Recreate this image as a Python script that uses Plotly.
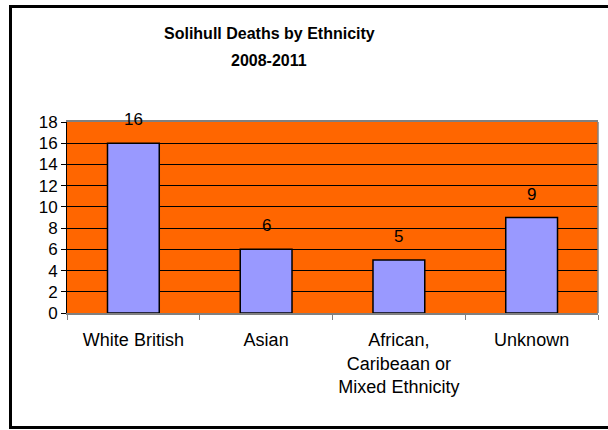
import plotly.graph_objects as go

# Chart data
categories = ["White British", "Asian", "African,<br>Caribeaan or<br>Mixed Ethnicity", "Unknown"]
deaths = [16, 6, 5, 9]
title_lines = ["Solihull Deaths by Ethnicity", "2008-2011"]

FONT = "Liberation Sans, Arial, sans-serif"
W, H = 608, 430
M_L, M_R, M_T, M_B = 67, 10, 122, 117
PW = W - M_L - M_R
PH = H - M_T - M_B


def px_x(x):
    return (x - M_L) / PW


def px_y(y):
    return (H - M_B - y) / PH


fig = go.Figure()
fig.add_trace(go.Bar(
    x=categories,
    y=deaths,
    marker=dict(color="#9999FF", line=dict(color="black", width=1.5)),
    hoverinfo="x+y",
))

# Value labels above each bar
for c, v in zip(categories, deaths):
    fig.add_annotation(
        x=c, y=v, xref="x", yref="y", text=str(v), showarrow=False,
        yanchor="bottom", yshift=12, font=dict(family=FONT, size=17, color="black"),
    )

# Two-line bold title
fig.add_annotation(x=px_x(269), y=px_y(34), xref="paper", yref="paper",
                   text="<b>%s</b>" % title_lines[0], showarrow=False,
                   xanchor="center", yanchor="middle",
                   font=dict(family=FONT, size=16, color="black"))
fig.add_annotation(x=px_x(269), y=px_y(61), xref="paper", yref="paper",
                   text="<b>%s</b>" % title_lines[1], showarrow=False,
                   xanchor="center", yanchor="middle",
                   font=dict(family=FONT, size=16, color="black"))

shapes = [
    # right edge of the plot area
    dict(type="line", xref="paper", yref="paper", x0=1, x1=1, y0=0, y1=1,
         line=dict(color="#808080", width=1.5)),
    # outer chart frame
    dict(type="rect", xref="paper", yref="paper",
         x0=px_x(10.5), x1=px_x(614), y0=px_y(427.5), y1=px_y(6.5),
         line=dict(color="black", width=3), fillcolor="rgba(0,0,0,0)"),
]

fig.update_layout(
    width=W, height=H,
    margin=dict(l=M_L, r=M_R, t=M_T, b=M_B, pad=0),
    paper_bgcolor="white",
    plot_bgcolor="#FF6600",
    bargap=0.61,
    showlegend=False,
    font=dict(family=FONT, size=17, color="black"),
    shapes=shapes,
    xaxis=dict(
        showgrid=False, showline=True, linecolor="#808080", linewidth=1.5, mirror=True,
        ticks="outside", tickson="boundaries", ticklen=5, tickcolor="#808080",
        ticklabelstandoff=10,
        tickfont=dict(family=FONT, size=18, color="black"), fixedrange=True,
    ),
    yaxis=dict(
        range=[0, 18], dtick=2, tick0=0,
        showgrid=True, gridcolor="black", gridwidth=1,
        zeroline=False, showline=True, linecolor="black", linewidth=1,
        ticks="outside", ticklen=5, tickcolor="black",
        tickfont=dict(family=FONT, size=17, color="black"), fixedrange=True,
    ),
)

fig.write_html("out.html")
